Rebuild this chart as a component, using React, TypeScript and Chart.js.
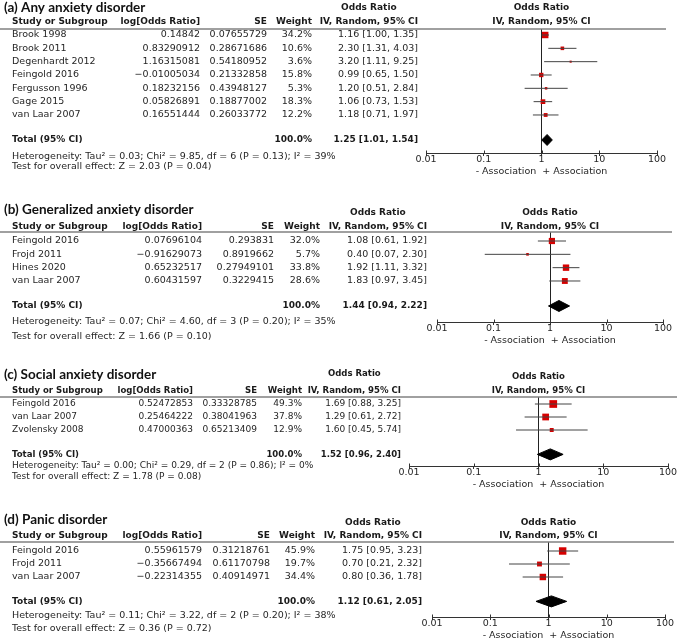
import React, { useEffect, useRef } from 'react';
import { Chart, registerables } from 'chart.js';

Chart.register(...registerables);

// ---------- (a) Any anxiety disorder ----------
const A_STUDIES = ['Brook 1998', 'Brook 2011', 'Degenhardt 2012', 'Feingold 2016', 'Fergusson 1996', 'Gage 2015', 'van Laar 2007'];
const A_LOG_OR = [0.14842, 0.83290912, 1.16315081, -0.01005034, 0.18232156, 0.05826891, 0.16551444];
const A_SE = [0.07655729, 0.28671686, 0.54180952, 0.21332858, 0.43948127, 0.18877002, 0.26033772];
const A_WEIGHT = [34.2, 10.6, 3.6, 15.8, 5.3, 18.3, 12.2];
const A_OR = [1.16, 2.30, 3.20, 0.99, 1.20, 1.06, 1.18];
const A_LO = [1.00, 1.31, 1.11, 0.65, 0.51, 0.73, 0.71];
const A_HI = [1.35, 4.03, 9.25, 1.50, 2.84, 1.53, 1.97];
const A_TOTAL = [1.25, 1.01, 1.54];
const A_HET = [0.03, 9.85, 6, 0.13, 39]; // Tau2, Chi2, df, P, I2
const A_TEST = [2.03, 0.04]; // Z, P

// ---------- (b) Generalized anxiety disorder ----------
const B_STUDIES = ['Feingold 2016', 'Frojd 2011', 'Hines 2020', 'van Laar 2007'];
const B_LOG_OR = [0.07696104, -0.91629073, 0.65232517, 0.60431597];
const B_SE = [0.293831, 0.8919662, 0.27949101, 0.3229415];
const B_WEIGHT = [32.0, 5.7, 33.8, 28.6];
const B_OR = [1.08, 0.40, 1.92, 1.83];
const B_LO = [0.61, 0.07, 1.11, 0.97];
const B_HI = [1.92, 2.30, 3.32, 3.45];
const B_TOTAL = [1.44, 0.94, 2.22];
const B_HET = [0.07, 4.60, 3, 0.20, 35];
const B_TEST = [1.66, 0.10];

// ---------- (c) Social anxiety disorder ----------
const C_STUDIES = ['Feingold 2016', 'van Laar 2007', 'Zvolensky 2008'];
const C_LOG_OR = [0.52472853, 0.25464222, 0.47000363];
const C_SE = [0.33328785, 0.38041963, 0.65213409];
const C_WEIGHT = [49.3, 37.8, 12.9];
const C_OR = [1.69, 1.29, 1.60];
const C_LO = [0.88, 0.61, 0.45];
const C_HI = [3.25, 2.72, 5.74];
const C_TOTAL = [1.52, 0.96, 2.40];
const C_HET = [0.00, 0.29, 2, 0.86, 0];
const C_TEST = [1.78, 0.08];

// ---------- (d) Panic disorder ----------
const D_STUDIES = ['Feingold 2016', 'Frojd 2011', 'van Laar 2007'];
const D_LOG_OR = [0.55961579, -0.35667494, -0.22314355];
const D_SE = [0.31218761, 0.61170798, 0.40914971];
const D_WEIGHT = [45.9, 19.7, 34.4];
const D_OR = [1.75, 0.70, 0.80];
const D_LO = [0.95, 0.21, 0.36];
const D_HI = [3.23, 2.32, 1.78];
const D_TOTAL = [1.12, 0.61, 2.05];
const D_HET = [0.11, 3.22, 2, 0.20, 38];
const D_TEST = [0.36, 0.72];

const X_TICKS = [0.01, 0.1, 1, 10, 100];
const TITLES = ['(a) Any anxiety disorder', '(b) Generalized anxiety disorder', '(c) Social anxiety disorder', '(d) Panic disorder'];

// ---------- styles / layout ----------
const TEXT = '#262626';
const RED = '#d60000';
const TITLE_FONT = "bold 13.5px Lato";
const TITLE_X = 4;
const STUDY_X = 12;
const TOTAL_GAP = 0.875;
const DIAMOND_HALF = 5.5;
const AXIS_H = 24;

type Layout = {
  top: number; height: number; fs: number; titleY: number; hdr1Y: number; plotHdr1Y: number; hdr2Y: number;
  lineY: number; firstRowY: number; rowSp: number; axisY: number; hetY: number; testY: number;
  logR: number; seR: number; wR: number; ciR: number; plotL: number; plotR: number;
};

type Panel = {
  title: string; studies: string[]; logOr: number[]; se: number[]; weight: number[];
  or: number[]; lo: number[]; hi: number[]; total: number[]; het: number[]; test: number[]; L: Layout;
};

const PANELS: Panel[] = [
  {
    title: TITLES[0], studies: A_STUDIES, logOr: A_LOG_OR, se: A_SE, weight: A_WEIGHT, or: A_OR, lo: A_LO, hi: A_HI,
    total: A_TOTAL, het: A_HET, test: A_TEST,
    L: { top: 0, height: 185, fs: 1, titleY: 8, hdr1Y: 8, plotHdr1Y: 8, hdr2Y: 22, lineY: 29, firstRowY: 35, rowSp: 13.33,
      axisY: 153, hetY: 157, testY: 167, logR: 200, seR: 267, wR: 312, ciR: 418, plotL: 426, plotR: 657 },
  },
  {
    title: TITLES[1], studies: B_STUDIES, logOr: B_LOG_OR, se: B_SE, weight: B_WEIGHT, or: B_OR, lo: B_LO, hi: B_HI,
    total: B_TOTAL, het: B_HET, test: B_TEST,
    L: { top: 185, height: 165, fs: 1, titleY: 210, hdr1Y: 213, plotHdr1Y: 213, hdr2Y: 227, lineY: 232, firstRowY: 241, rowSp: 13.33,
      axisY: 322, hetY: 322, testY: 337, logR: 202, seR: 274, wR: 320, ciR: 427, plotL: 437, plotR: 663 },
  },
  {
    title: TITLES[2], studies: C_STUDIES, logOr: C_LOG_OR, se: C_SE, weight: C_WEIGHT, or: C_OR, lo: C_LO, hi: C_HI,
    total: C_TOTAL, het: C_HET, test: C_TEST,
    L: { top: 350, height: 150, fs: 0.95, titleY: 375, hdr1Y: 374, plotHdr1Y: 377, hdr2Y: 391, lineY: 397, firstRowY: 404, rowSp: 13,
      axisY: 466, hetY: 466, testY: 477, logR: 193, seR: 257, wR: 302, ciR: 401, plotL: 409, plotR: 668 },
  },
  {
    title: TITLES[3], studies: D_STUDIES, logOr: D_LOG_OR, se: D_SE, weight: D_WEIGHT, or: D_OR, lo: D_LO, hi: D_HI,
    total: D_TOTAL, het: D_HET, test: D_TEST,
    L: { top: 500, height: 142, fs: 1, titleY: 520, hdr1Y: 523, plotHdr1Y: 523, hdr2Y: 536, lineY: 542, firstRowY: 551, rowSp: 13,
      axisY: 617, hetY: 616, testY: 629, logR: 202, seR: 270, wR: 315, ciR: 422, plotL: 432, plotR: 665 },
  },
];

const fmtNum = (v: number) => String(v).replace('-', '\u2212');
const fmtCI = (e: number, l: number, h: number) => `${e.toFixed(2)} [${l.toFixed(2)}, ${h.toFixed(2)}]`;

function tablePlugin(p: Panel) {
  const REG = `${(9.5 * p.L.fs).toFixed(2)}px 'DejaVu Sans'`;
  const BOLD = `bold ${(9 * p.L.fs).toFixed(2)}px 'DejaVu Sans'`;
  return {
    id: 'forestTable',
    afterDraw(chart: any) {
      const ctx: CanvasRenderingContext2D = chart.ctx;
      const L = p.L;
      const o = L.top;
      const ys = chart.scales.y;
      const xs = chart.scales.x;
      const n = p.studies.length;
      const totalRow = n + TOTAL_GAP;
      ctx.save();
      ctx.textBaseline = 'middle';
      ctx.fillStyle = TEXT;

      // title
      ctx.font = TITLE_FONT;
      ctx.textAlign = 'left';
      ctx.fillStyle = '#111';
      ctx.fillText(p.title, TITLE_X, L.titleY - o);

      // header line
      ctx.strokeStyle = '#808080';
      ctx.lineWidth = 1.6;
      ctx.beginPath();
      ctx.moveTo(0, L.lineY - o);
      ctx.lineTo(xs.right + 9, L.lineY - o);
      ctx.stroke();

      // headers
      ctx.font = BOLD;
      ctx.fillStyle = '#1a1a1a';
      ctx.textAlign = 'left';
      ctx.fillText('Study or Subgroup', STUDY_X, L.hdr2Y - o);
      ctx.textAlign = 'right';
      ctx.fillText('log[Odds Ratio]', L.logR, L.hdr2Y - o);
      ctx.fillText('SE', L.seR, L.hdr2Y - o);
      ctx.fillText('Weight', L.wR, L.hdr2Y - o);
      const ivText = 'IV, Random, 95% CI';
      ctx.fillText(ivText, L.ciR, L.hdr2Y - o);
      const ivW = ctx.measureText(ivText).width;
      ctx.textAlign = 'center';
      ctx.fillText('Odds Ratio', L.ciR - ivW / 2, L.hdr1Y - o);
      const cx = xs.getPixelForValue(1);
      ctx.fillText('Odds Ratio', cx, L.plotHdr1Y - o);
      ctx.fillText(ivText, cx, L.hdr2Y - o);

      // study rows
      ctx.font = REG;
      ctx.fillStyle = TEXT;
      p.studies.forEach((s, i) => {
        const y = ys.getPixelForValue(i);
        ctx.textAlign = 'left';
        ctx.fillText(s, STUDY_X, y);
        ctx.textAlign = 'right';
        ctx.fillText(fmtNum(p.logOr[i]), L.logR, y);
        ctx.fillText(fmtNum(p.se[i]), L.seR, y);
        ctx.fillText(`${p.weight[i].toFixed(1)}%`, L.wR, y);
        ctx.fillText(fmtCI(p.or[i], p.lo[i], p.hi[i]), L.ciR, y);
      });

      // total row
      const ty = ys.getPixelForValue(totalRow);
      ctx.font = BOLD;
      ctx.fillStyle = '#1a1a1a';
      ctx.textAlign = 'left';
      ctx.fillText('Total (95% CI)', STUDY_X, ty);
      ctx.textAlign = 'right';
      const wSum = p.weight.reduce((a, b) => a + b, 0);
      ctx.fillText(`${Math.round(wSum).toFixed(1)}%`, L.wR, ty);
      ctx.fillText(fmtCI(p.total[0], p.total[1], p.total[2]), L.ciR, ty);

      // heterogeneity / test
      ctx.font = REG;
      ctx.fillStyle = TEXT;
      ctx.textAlign = 'left';
      const [tau, chi, df, ph, i2] = p.het;
      ctx.fillText(
        `Heterogeneity: Tau\u00B2 = ${tau.toFixed(2)}; Chi\u00B2 = ${chi.toFixed(2)}, df = ${df} (P = ${ph.toFixed(2)}); I\u00B2 = ${i2}%`,
        STUDY_X, L.hetY - o);
      ctx.fillText(`Test for overall effect: Z = ${p.test[0].toFixed(2)} (P = ${p.test[1].toFixed(2)})`, STUDY_X, L.testY - o);

      // upward half of axis tick marks
      ctx.strokeStyle = '#333';
      ctx.lineWidth = 1;
      xs.ticks.forEach((t: any) => {
        const px = Math.round(xs.getPixelForValue(t.value)) + 0.5;
        ctx.beginPath();
        ctx.moveTo(px, xs.top - 2.5);
        ctx.lineTo(px, xs.top);
        ctx.stroke();
      });
      ctx.restore();
    },
  };
}

function buildConfig(p: Panel): any {
  const L = p.L;
  const n = p.studies.length;
  const totalRow = n + TOTAL_GAP;
  const whiskers: any[] = [];
  p.lo.forEach((lo, i) => {
    whiskers.push({ x: lo, y: i }, { x: p.hi[i], y: i }, { x: p.hi[i], y: null });
  });
  const squares = p.or.map((v, i) => ({ x: v, y: i }));
  const dh = DIAMOND_HALF / L.rowSp;
  const [te, tl, th] = p.total;
  const diamond = [
    { x: tl, y: totalRow }, { x: te, y: totalRow - dh }, { x: th, y: totalRow },
    { x: te, y: totalRow + dh }, { x: tl, y: totalRow },
  ];
  const yMin = (L.lineY - L.firstRowY) / L.rowSp;
  const yMax = (L.axisY - L.firstRowY) / L.rowSp;
  const padTop = L.lineY - L.top;
  const padBottom = L.height - (L.axisY - L.top) - AXIS_H;

  return {
    type: 'scatter',
    data: {
      datasets: [
        {
          type: 'line', data: whiskers, showLine: true, spanGaps: false, borderColor: '#444',
          borderWidth: 1, pointRadius: 0, fill: false, tension: 0,
        },
        {
          type: 'scatter', data: squares, pointStyle: 'rect', backgroundColor: RED, borderColor: RED, borderWidth: 0,
          pointRadius: p.weight.map((w) => Math.max(1.4, (1.1 * Math.sqrt(w)) / Math.SQRT2)),
        },
        {
          type: 'line', data: diamond, showLine: true, borderColor: '#000', backgroundColor: '#000', borderWidth: 1,
          pointRadius: 0, fill: 'shape', tension: 0,
        },
      ],
    },
    options: {
      animation: false,
      responsive: false,
      maintainAspectRatio: false,
      devicePixelRatio: 1,
      events: [],
      layout: { padding: { left: L.plotL, right: 680 - L.plotR, top: padTop, bottom: padBottom } },
      plugins: { legend: { display: false }, tooltip: { enabled: false }, title: { display: false } },
      scales: {
        x: {
          type: 'logarithmic', position: 'bottom', min: 0.01, max: 100,
          afterBuildTicks: (s: any) => { s.ticks = X_TICKS.map((v) => ({ value: v })); },
          afterFit: (s: any) => { s.height = AXIS_H; },
          ticks: {
            autoSkip: false, maxRotation: 0, minRotation: 0, padding: -1, color: TEXT,
            font: { family: 'DejaVu Sans', size: 9.5, lineHeight: 1 },
            callback: (v: any) => String(v),
          },
          grid: {
            drawOnChartArea: true, drawTicks: true, tickLength: 3, tickColor: '#333', lineWidth: 1,
            color: (c: any) => (c.tick && c.tick.value === 1 ? '#222' : 'rgba(0,0,0,0)'),
          },
          border: { display: true, color: '#333', width: 1 },
          title: {
            display: true, text: '- Association  + Association', color: TEXT,
            font: { family: 'DejaVu Sans', size: 9.5 }, padding: { top: 0, bottom: 0 },
          },
        },
        y: { type: 'linear', reverse: true, min: yMin, max: yMax, display: false },
      },
    },
    plugins: [tablePlugin(p)],
  };
}

function PanelChart({ p }: { p: Panel }) {
  const ref = useRef<HTMLCanvasElement | null>(null);
  useEffect(() => {
    if (!ref.current) return;
    const chart = new Chart(ref.current, buildConfig(p));
    return () => chart.destroy();
  }, [p]);
  return (
    <canvas
      ref={ref}
      width={680}
      height={p.L.height}
      style={{ position: 'absolute', left: 0, top: p.L.top, width: 680, height: p.L.height, display: 'block' }}
    />
  );
}

export default function App() {
  return (
    <div style={{ position: 'absolute', left: 0, top: 0, width: 680, height: 642, overflow: 'hidden', background: '#fff' }}>
      {PANELS.map((p, i) => (
        <PanelChart key={i} p={p} />
      ))}
    </div>
  );
}
